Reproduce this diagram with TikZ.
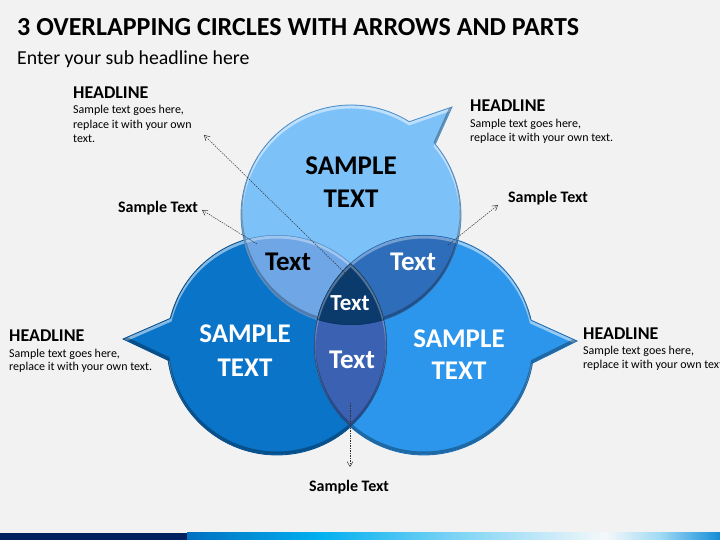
\documentclass[tikz,border=0pt]{standalone}
\usepackage{fontspec}
\setmainfont{Carlito}
\usetikzlibrary{arrows.meta}
\definecolor{bg}{HTML}{F2F2F2}
\definecolor{topC}{HTML}{7DC1F9}
\definecolor{topE}{HTML}{4F8FC8}
\definecolor{leftC}{HTML}{0A74C8}
\definecolor{leftE}{HTML}{064E8C}
\definecolor{rightC}{HTML}{2C96EC}
\definecolor{rightE}{HTML}{1A68AE}
\definecolor{lensTL}{HTML}{6EA6E6}
\definecolor{lensTR}{HTML}{2E6DB9}
\definecolor{lensB}{HTML}{3B62B2}
\definecolor{lensC}{HTML}{0B3A6C}
\definecolor{lensE}{HTML}{0A3360}
\definecolor{navy}{HTML}{002060}
\definecolor{arr}{HTML}{333333}
\def\pTop{([shift={(58:110)}]351,325) arc[start angle=58,end angle=400,radius=110] -- (452,433) -- cycle}
\def\pLeft{([shift={(188:110)}]277,195) arc[start angle=188,end angle=526,radius=110] -- (123,201) -- cycle}
\def\pRight{([shift={(13:110)}]424,195) arc[start angle=13,end angle=350.5,radius=110] -- (577,199) -- cycle}
\def\cTop{(351,325) circle[radius=110]}
\def\cLeft{(277,195) circle[radius=110]}
\def\cRight{(424,195) circle[radius=110]}
\newcommand\bevelshape[3]{%
  \fill[#2] #1;
  \begin{scope}\clip #1;
    \begin{scope}[yshift=-2pt]\draw[white,opacity=.5,line width=3pt] #1;\end{scope}
    \begin{scope}[yshift=2pt]\draw[black,opacity=.3,line width=3pt] #1;\end{scope}
  \end{scope}
  \draw[#3,line width=.8pt] #1;}
\newcommand\lensfill[4]{%
  \begin{scope}\clip #1;\clip #2;
    \fill[#3] (0,0) rectangle (720,540);
    \begin{scope}[yshift=-2pt]\draw[white,opacity=.35,line width=3pt] #1 #2;\end{scope}
    \begin{scope}[yshift=2pt]\draw[black,opacity=.25,line width=3pt] #1 #2;\end{scope}
    \draw[#4,line width=1pt] #1 #2;
  \end{scope}}
\tikzset{
  titlef/.style={inner sep=0,anchor=base west,font=\fontsize{26}{31}\selectfont\bfseries},
  subf/.style={inner sep=0,anchor=base west,font=\fontsize{19.8}{24}\selectfont},
  headf/.style={inner sep=0,anchor=base west,font=\fontsize{18}{22}\selectfont\bfseries},
  bodyf/.style={inner sep=0,anchor=base west,font=\fontsize{12}{14}\selectfont},
  bigf/.style={inner sep=0,anchor=base,font=\fontsize{27}{32}\selectfont\bfseries},
  lensf/.style={inner sep=0,anchor=base,font=\fontsize{27}{32}\selectfont\bfseries},
  smallf/.style={inner sep=0,anchor=base,font=\fontsize{16}{19}\selectfont\bfseries},
  conn/.style={arr,line width=.5pt,dash pattern=on 1.5pt off 1pt,-{Straight Barb[length=5pt,width=6pt]}}
}
\begin{document}
\begin{tikzpicture}[x=1pt,y=1pt]
\useasboundingbox (0,0) rectangle (720,540);
\fill[bg] (0,0) rectangle (720,540);
% bottom bar
\fill[navy] (0,0) rectangle (187,7);
\shade[left color={rgb,255:red,0;green,112;blue,192},right color={rgb,255:red,0;green,176;blue,240}] (187,0) rectangle (320,7);
\shade[left color={rgb,255:red,0;green,176;blue,240},right color={rgb,255:red,120;green,210;blue,245}] (320,0) rectangle (450,7);
\shade[left color={rgb,255:red,120;green,210;blue,245},right color={rgb,255:red,245;green,248;blue,250}] (450,0) rectangle (605,7);
\shade[left color={rgb,255:red,245;green,248;blue,250},right color={rgb,255:red,160;green,218;blue,245}] (605,0) rectangle (660,7);
\shade[left color={rgb,255:red,160;green,218;blue,245},right color={rgb,255:red,20;green,140;blue,215}] (660,0) rectangle (720,7);
% titles
\node[titlef] (title) at (17,504) {3 OVERLAPPING CIRCLES WITH ARROWS AND PARTS};
\node[subf] (sub) at (17,475) {Enter your sub headline here};
% shapes
\bevelshape{\pLeft}{leftC}{leftE}
\bevelshape{\pRight}{rightC}{rightE}
\bevelshape{\pTop}{topC}{topE}
\lensfill{\cTop}{\cLeft}{lensTL}{topE}
\lensfill{\cTop}{\cRight}{lensTR}{rightE}
\lensfill{\cLeft}{\cRight}{lensB}{leftE}
\begin{scope}\clip \cTop;\clip \cLeft;\clip \cRight;
  \fill[lensC] (0,0) rectangle (720,540);
  \begin{scope}[yshift=-2pt]\draw[white,opacity=.3,line width=3pt] \cLeft \cRight;\end{scope}
  \draw[lensE,line width=1pt] \cTop \cLeft \cRight;
\end{scope}
% circle texts
\node[bigf] (t1) at (351,365) {SAMPLE};
\node[bigf] (t2) at (351,332) {TEXT};
\node[bigf,white] (l1) at (245,197) {SAMPLE};
\node[bigf,white] (l2) at (245,163) {TEXT};
\node[bigf,white] (r1) at (459,192) {SAMPLE};
\node[bigf,white] (r2) at (459,160) {TEXT};
\node[lensf] (xtl) at (288,269) {Text};
\node[lensf,white] (xtr) at (413,269) {Text};
\node[lensf,white,font=\fontsize{23}{28}\selectfont\bfseries] (xc) at (350,229) {Text};
\node[lensf,white] (xb) at (352,171) {Text};
% headline blocks
\node[headf] (h1) at (73,441) {HEADLINE};
\node[bodyf] (h1a) at (73,426) {Sample text goes here,};
\node[bodyf] (h1b) at (73,411) {replace it with your own};
\node[bodyf] (h1c) at (73,397) {text.};
\node[headf] (h2) at (470,428) {HEADLINE};
\node[bodyf] (h2a) at (470,412) {Sample text goes here,};
\node[bodyf] (h2b) at (470,398) {replace it with your own text.};
\node[headf] (h3) at (9,198) {HEADLINE};
\node[bodyf] (h3a) at (9,182) {Sample text goes here,};
\node[bodyf] (h3b) at (9,169) {replace it with your own text.};
\node[headf] (h4) at (583,200) {HEADLINE};
\node[bodyf] (h4a) at (583,185) {Sample text goes here,};
\node[bodyf] (h4b) at (583,171) {replace it with your own text.};
% sample text labels
\node[smallf] (s1) at (158,327) {Sample Text};
\node[smallf] (s2) at (548,337) {Sample Text};
\node[smallf] (s3) at (349,48) {Sample Text};
% connectors
\coordinate (a1s) at (350,262); \coordinate (a1e) at (204,405);
\coordinate (a2s) at (257,296); \coordinate (a2e) at (202,330);
\coordinate (a3s) at (448,295); \coordinate (a3e) at (498,335);
\coordinate (a4s) at (350,137); \coordinate (a4e) at (350,73);
\draw[conn] (a1s) -- (a1e);
\draw[conn] (a2s) -- (a2e);
\draw[conn] (a3s) -- (a3e);
\draw[conn] (a4s) -- (a4e);
\end{tikzpicture}
\end{document}
